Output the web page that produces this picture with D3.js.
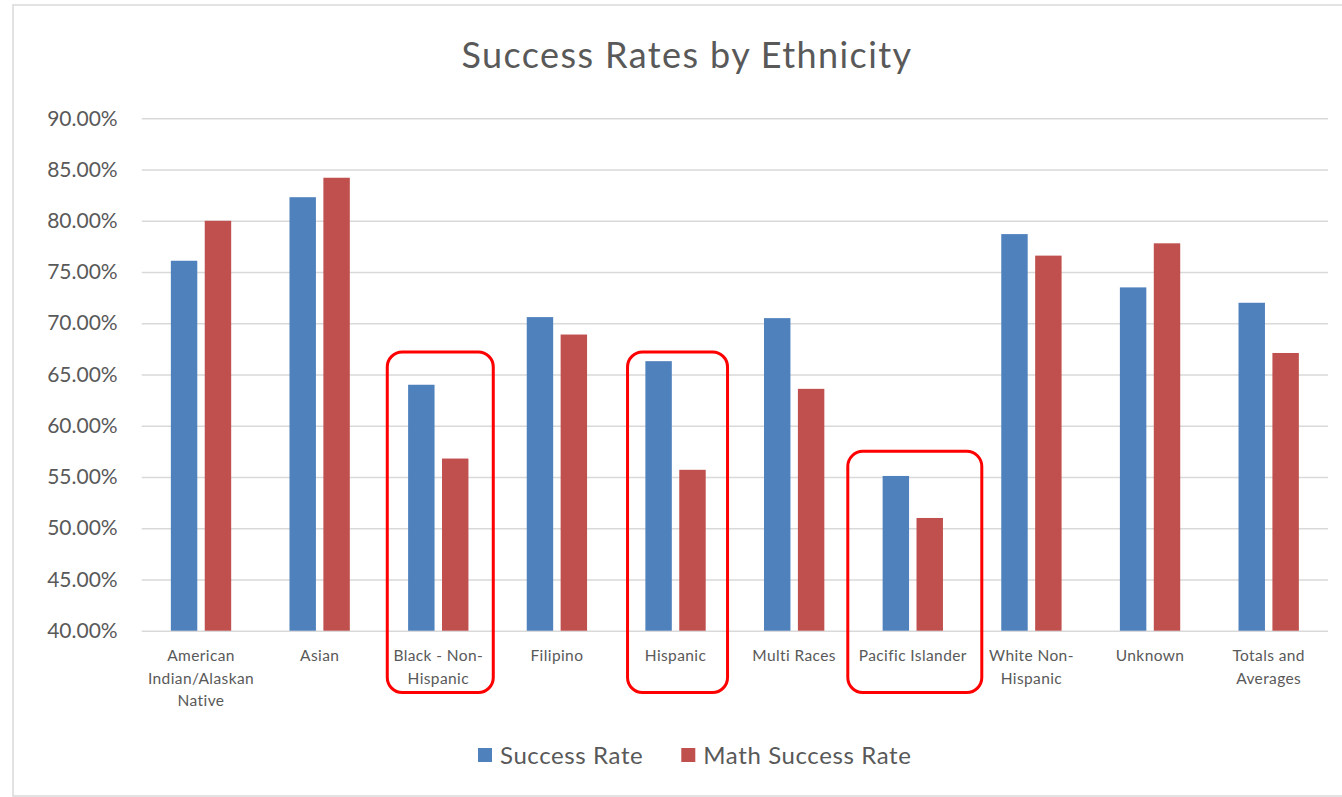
<!DOCTYPE html>
<html lang="en">
<head>
<meta charset="utf-8">
<title>Success Rates by Ethnicity</title>
<script src="https://d3js.org/d3.v7.min.js"></script>
<style>
  body { margin: 0; background: #fff; }
  text { font-family: Lato, "Open Sans", sans-serif; fill: #595959; }
</style>
</head>
<body>
<div id="chart"></div>
<script>
// data
var categories = ["American Indian/Alaskan Native", "Asian", "Black - Non-Hispanic", "Filipino",
  "Hispanic", "Multi Races", "Pacific Islander", "White Non-Hispanic", "Unknown", "Totals and Averages"];
var labelLines = [["American", "Indian/Alaskan", "Native"], ["Asian"], ["Black - Non-", "Hispanic"], ["Filipino"],
  ["Hispanic"], ["Multi Races"], ["Pacific Islander"], ["White Non-", "Hispanic"], ["Unknown"], ["Totals and", "Averages"]];
var seriesNames = ["Success Rate", "Math Success Rate"];
var successRate = [76.1, 82.3, 64.0, 70.6, 66.3, 70.5, 55.1, 78.7, 73.5, 72.0];
var mathSuccessRate = [80.0, 84.2, 56.8, 68.9, 55.7, 63.6, 51.0, 76.6, 77.8, 67.1];
var yTicks = [40, 45, 50, 55, 60, 65, 70, 75, 80, 85, 90];
// highlighted groups (red boxes)
var highlighted = ["Black - Non-Hispanic", "Hispanic", "Pacific Islander"];
var highlightTop = [67.2, 67.2, 57.5];

var colors = ["#4f81bd", "#c0504d"];

var width = 1342, height = 797;
var margin = {top: 118.3, right: 14, bottom: 166.3, left: 141.7};

var svg = d3.select("#chart").append("svg")
  .attr("width", width)
  .attr("height", height);

// chart frame
svg.append("rect")
  .attr("x", 13).attr("y", 5)
  .attr("width", 1360).attr("height", 791)
  .attr("fill", "none")
  .attr("stroke", "#d9d9d9")
  .attr("stroke-width", 1.5);

var x0 = d3.scaleBand()
  .domain(categories)
  .range([margin.left, width - margin.right])
  .padding(0);

var x1 = d3.scaleBand()
  .domain(seriesNames)
  .range([0, x0.bandwidth()])
  .paddingInner(0.22)
  .paddingOuter(0.86);

var y = d3.scaleLinear()
  .domain([40, 90])
  .range([height - margin.bottom, margin.top]);

// gridlines + y labels
var yAxis = d3.axisLeft(y)
  .tickValues(yTicks)
  .tickSize(-(width - margin.left - margin.right))
  .tickPadding(24)
  .tickFormat(function(d) { return d3.format(".2f")(d) + "%"; });

var gy = svg.append("g")
  .attr("transform", "translate(" + margin.left + ",0)")
  .call(yAxis);
gy.select(".domain").remove();
gy.selectAll(".tick line").attr("stroke", "#d9d9d9").attr("stroke-width", 1.5);
gy.selectAll(".tick text")
  .attr("font-size", "21px")
  .style("font-family", "Lato, sans-serif")
  .attr("fill", "#595959");

// bars
var rows = categories.map(function(c, i) {
  return {cat: c, values: [successRate[i], mathSuccessRate[i]]};
});

var groups = svg.selectAll("g.group")
  .data(rows)
  .enter().append("g")
  .attr("class", "group")
  .attr("transform", function(d) { return "translate(" + x0(d.cat) + ",0)"; });

groups.selectAll("rect")
  .data(function(d) { return d.values.map(function(v, j) { return {key: seriesNames[j], value: v, j: j}; }); })
  .enter().append("rect")
  .attr("x", function(d) { return x1(d.key); })
  .attr("y", function(d) { return y(d.value); })
  .attr("width", x1.bandwidth())
  .attr("height", function(d) { return y(40) - y(d.value); })
  .attr("fill", function(d) { return colors[d.j]; });

// category labels
var xl = svg.append("g");
categories.forEach(function(c, i) {
  var t = xl.append("text")
    .attr("x", x0(c) + x0.bandwidth() / 2)
    .attr("y", 661)
    .attr("text-anchor", "middle")
    .attr("font-size", "15.5px")
    .style("letter-spacing", "0.4px");
  labelLines[i].forEach(function(line, k) {
    t.append("tspan")
      .attr("x", x0(c) + x0.bandwidth() / 2)
      .attr("dy", k === 0 ? 0 : 22.5)
      .text(line);
  });
});

// red highlight boxes
var boxWidth = {"Black - Non-Hispanic": 106, "Hispanic": 100, "Pacific Islander": 134};
highlighted.forEach(function(c, i) {
  var cx = x0(c) + x0.bandwidth() / 2 + 2;
  var w = boxWidth[c];
  svg.append("rect")
    .attr("x", cx - w / 2)
    .attr("y", y(highlightTop[i]))
    .attr("width", w)
    .attr("height", 692.5 - y(highlightTop[i]))
    .attr("rx", 15)
    .attr("fill", "none")
    .attr("stroke", "#ff0000")
    .attr("stroke-width", 3);
});

// title
svg.append("text")
  .attr("x", 687)
  .attr("y", 68)
  .attr("text-anchor", "middle")
  .attr("font-size", "36px")
  .style("letter-spacing", "1.4px")
  .text("Success Rates by Ethnicity");

// legend
var legend = svg.append("g").attr("transform", "translate(478,0)");
var lx = 0;
seriesNames.forEach(function(name, i) {
  var g = legend.append("g").attr("transform", "translate(" + lx + ",0)");
  g.append("rect")
    .attr("x", 0).attr("y", 748)
    .attr("width", 14).attr("height", 14)
    .attr("fill", colors[i]);
  var t = g.append("text")
    .attr("x", 22).attr("y", 764)
    .attr("font-size", "24px")
    .style("letter-spacing", "0.6px")
    .text(name);
  lx += 22 + t.node().getComputedTextLength() + 38;
});
</script>
</body>
</html>
